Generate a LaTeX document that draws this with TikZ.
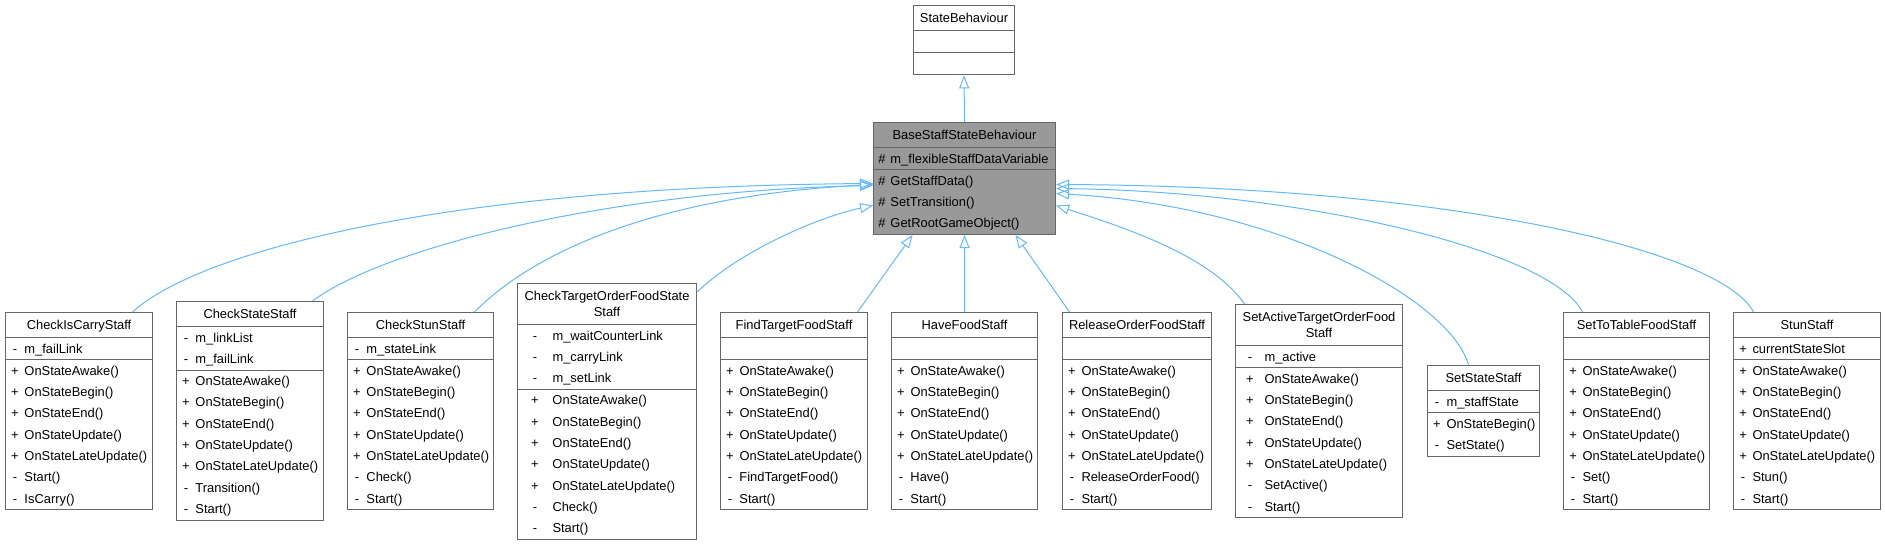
\documentclass[tikz,border=0pt]{standalone}
\usepackage{fontspec}
\setmainfont{Liberation Sans}
\usetikzlibrary{shapes.multipart,arrows.meta}

\definecolor{boxgray}{HTML}{666666}
\definecolor{basegray}{HTML}{999999}
\definecolor{edgeblue}{HTML}{63B8FF}

\newcommand{\rowstrut}{\rule[-6.1pt]{0pt}{21.2pt}}
\newcommand{\umem}[3][13pt]{\rowstrut\makebox[#1]{#2}\kern3pt#3}
\newcommand{\ctitle}[1]{\vtop{\hsize=\linewidth\relax\baselineskip=16pt\relax\centering
  \rule{0pt}{16.5pt}#1\rule[-7.5pt]{0pt}{7.5pt}\par}}

\begin{document}
\begin{tikzpicture}[x=1pt,y=-1pt,
  classbox/.style={rectangle split, rectangle split parts=3, draw=boxgray, line width=1pt,
    fill=white, inner xsep=3pt, inner ysep=0pt, text width=#1pt-6pt, align=left,
    anchor=north west, font=\fontsize{12.9pt}{21.3pt}\selectfont},
  inherit/.style={draw=edgeblue, line width=1pt, -{Triangle[open,length=13pt,width=10pt]}}]
\useasboundingbox (0,0) rectangle (1885,544);
% parent classes
\node[classbox=101] (sb) at (913,5) {\ctitle{StateBehaviour}
  \nodepart{second}\rowstrut
  \nodepart{third}\rowstrut};
\node[classbox=182, fill=basegray] (base) at (873,122) {\ctitle{BaseStaffStateBehaviour}
  \nodepart{second}\umem[11pt]{\#}{m\_flexibleStaffDataVariable}
  \nodepart{third}\umem[11pt]{\#}{GetStaffData()}\\ \umem[11pt]{\#}{SetTransition()}\\
  \umem[11pt]{\#}{GetRootGameObject()}};
% derived classes
\node[classbox=147] (cic) at (5,312) {\ctitle{CheckIsCarryStaff}
  \nodepart{second}\umem{-}{m\_failLink}
  \nodepart{third}\umem{+}{OnStateAwake()}\\ \umem{+}{OnStateBegin()}\\ \umem{+}{OnStateEnd()}\\
  \umem{+}{OnStateUpdate()}\\ \umem{+}{OnStateLateUpdate()}\\ \umem{-}{Start()}\\ \umem{-}{IsCarry()}};
\node[classbox=147] (chst) at (176,301) {\ctitle{CheckStateStaff}
  \nodepart{second}\umem{-}{m\_linkList}\\ \umem{-}{m\_failLink}
  \nodepart{third}\umem{+}{OnStateAwake()}\\ \umem{+}{OnStateBegin()}\\ \umem{+}{OnStateEnd()}\\
  \umem{+}{OnStateUpdate()}\\ \umem{+}{OnStateLateUpdate()}\\ \umem{-}{Transition()}\\ \umem{-}{Start()}};
\node[classbox=146] (chstun) at (347,312) {\ctitle{CheckStunStaff}
  \nodepart{second}\umem{-}{m\_stateLink}
  \nodepart{third}\umem{+}{OnStateAwake()}\\ \umem{+}{OnStateBegin()}\\ \umem{+}{OnStateEnd()}\\
  \umem{+}{OnStateUpdate()}\\ \umem{+}{OnStateLateUpdate()}\\ \umem{-}{Check()}\\ \umem{-}{Start()}};
\node[classbox=179] (cto) at (517,283) {\ctitle{CheckTargetOrderFoodState\\Staff}
  \nodepart{second}\umem[29pt]{-}{m\_waitCounterLink}\\ \umem[29pt]{-}{m\_carryLink}\\
  \umem[29pt]{-}{m\_setLink}
  \nodepart{third}\umem[29pt]{+}{OnStateAwake()}\\ \umem[29pt]{+}{OnStateBegin()}\\
  \umem[29pt]{+}{OnStateEnd()}\\ \umem[29pt]{+}{OnStateUpdate()}\\ \umem[29pt]{+}{OnStateLateUpdate()}\\
  \umem[29pt]{-}{Check()}\\ \umem[29pt]{-}{Start()}};
\node[classbox=147] (ftf) at (720,312) {\ctitle{FindTargetFoodStaff}
  \nodepart{second}\rowstrut
  \nodepart{third}\umem{+}{OnStateAwake()}\\ \umem{+}{OnStateBegin()}\\ \umem{+}{OnStateEnd()}\\
  \umem{+}{OnStateUpdate()}\\ \umem{+}{OnStateLateUpdate()}\\ \umem{-}{FindTargetFood()}\\ \umem{-}{Start()}};
\node[classbox=146] (hfs) at (891,312) {\ctitle{HaveFoodStaff}
  \nodepart{second}\rowstrut
  \nodepart{third}\umem{+}{OnStateAwake()}\\ \umem{+}{OnStateBegin()}\\ \umem{+}{OnStateEnd()}\\
  \umem{+}{OnStateUpdate()}\\ \umem{+}{OnStateLateUpdate()}\\ \umem{-}{Have()}\\ \umem{-}{Start()}};
\node[classbox=149] (rof) at (1062,312) {\ctitle{ReleaseOrderFoodStaff}
  \nodepart{second}\rowstrut
  \nodepart{third}\umem{+}{OnStateAwake()}\\ \umem{+}{OnStateBegin()}\\ \umem{+}{OnStateEnd()}\\
  \umem{+}{OnStateUpdate()}\\ \umem{+}{OnStateLateUpdate()}\\ \umem{-}{ReleaseOrderFood()}\\ \umem{-}{Start()}};
\node[classbox=167] (sat) at (1235,304) {\ctitle{SetActiveTargetOrderFood\\Staff}
  \nodepart{second}\umem[23pt]{-}{m\_active}
  \nodepart{third}\umem[23pt]{+}{OnStateAwake()}\\ \umem[23pt]{+}{OnStateBegin()}\\
  \umem[23pt]{+}{OnStateEnd()}\\ \umem[23pt]{+}{OnStateUpdate()}\\ \umem[23pt]{+}{OnStateLateUpdate()}\\
  \umem[23pt]{-}{SetActive()}\\ \umem[23pt]{-}{Start()}};
\node[classbox=112] (sss) at (1427,365) {\ctitle{SetStateStaff}
  \nodepart{second}\umem{-}{m\_staffState}
  \nodepart{third}\umem{+}{OnStateBegin()}\\ \umem{-}{SetState()}};
\node[classbox=146] (stt) at (1563,312) {\ctitle{SetToTableFoodStaff}
  \nodepart{second}\rowstrut
  \nodepart{third}\umem{+}{OnStateAwake()}\\ \umem{+}{OnStateBegin()}\\ \umem{+}{OnStateEnd()}\\
  \umem{+}{OnStateUpdate()}\\ \umem{+}{OnStateLateUpdate()}\\ \umem{-}{Set()}\\ \umem{-}{Start()}};
\node[classbox=147] (stun) at (1733,312) {\ctitle{StunStaff}
  \nodepart{second}\umem{+}{currentStateSlot}
  \nodepart{third}\umem{+}{OnStateAwake()}\\ \umem{+}{OnStateBegin()}\\ \umem{+}{OnStateEnd()}\\
  \umem{+}{OnStateUpdate()}\\ \umem{+}{OnStateLateUpdate()}\\ \umem{-}{Stun()}\\ \umem{-}{Start()}};
% inheritance
\draw[inherit] (base.north) -- (sb.south);
\draw[inherit] ([xshift=53.5pt]cic.north) .. controls +(68,-62) and +(-423,3) .. ([yshift=-5pt]base.west);
\draw[inherit] ([xshift=62.5pt]chst.north) .. controls +(68,-51) and +(-273,6) .. ([yshift=-7pt]base.west);
\draw[inherit] ([xshift=54pt]chstun.north) .. controls +(56,-57) and +(-223,12) .. ([yshift=-6pt]base.west);
\draw[inherit] ([yshift=-9pt]cto.north east) .. controls +(44,-42) and +(-53,11) .. ([yshift=-27pt]base.west);
\draw[inherit] ([xshift=63.5pt]ftf.north) -- ([xshift=-52pt]base.south);
\draw[inherit] (hfs.north) -- (base.south);
\draw[inherit] ([xshift=-67.5pt]rof.north) -- ([xshift=51pt]base.south);
\draw[inherit] ([xshift=-74.5pt]sat.north) .. controls +(-34,-49) and +(65,21) .. ([yshift=-27pt]base.east);
\draw[inherit] ([xshift=-15pt]sss.north) .. controls +(-18,-65) and +(225,13) .. ([yshift=-15pt]base.east);
\draw[inherit] ([xshift=-54pt]stt.north) .. controls +(-32,-62) and +(245,3) .. ([yshift=-10pt]base.east);
\draw[inherit] ([xshift=-53.5pt]stun.north) .. controls +(-33,-62) and +(395,2) .. ([yshift=-6pt]base.east);
\end{tikzpicture}
\end{document}
